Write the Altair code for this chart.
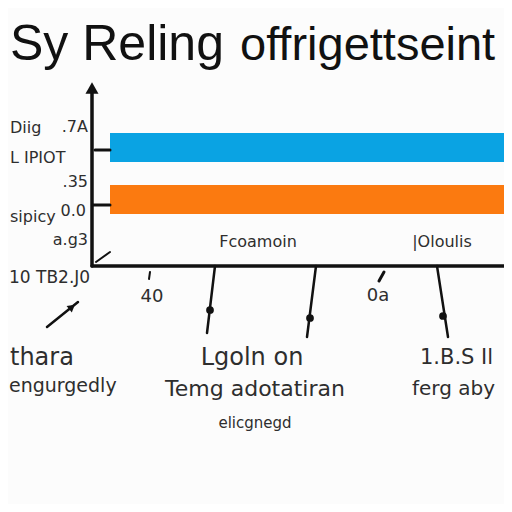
import altair as alt
import pandas as pd

# ---- data ----
bar_labels = ["L IPIOT", "sipicy"]
bar_values = [100, 99]
bar_colors = ["#0aa3e3", "#fb7a10"]

title_parts = ["Sy Reling", "offrigettseint"]
left_labels = ["Diig", "L IPIOT", "sipicy", "a.g3", "10 TB2.J0"]
y_tick_labels = [".7A", ".35", "0.0"]
inner_labels = ["Fcoamoin", "|Oloulis"]
x_tick_labels = ["40", "0a"]
bottom_left = ["thara", "engurgedly"]
bottom_mid = ["Lgoln on", "Temg adotatiran", "elicgnegd"]
bottom_right = ["1.B.S Il", "ferg aby"]

W, H = 496, 496
OFF = 8  # page margin; positions below are page px minus margin

df = pd.DataFrame({"cat": bar_labels, "value": bar_values, "color": bar_colors})

bars = alt.Chart(df).mark_bar().encode(
    x=alt.X("value:Q", scale=alt.Scale(domain=[0, 100], range=[102, 504]), axis=None),
    y=alt.Y("cat:N", sort=bar_labels,
            scale=alt.Scale(range=[125, 206], paddingInner=0.4423, paddingOuter=0), axis=None),
    color=alt.Color("color:N", scale=None, legend=None),
)

base = alt.Chart(pd.DataFrame({"a": [0]}))


def P(v):
    return v - OFF


def txt(s, x, y, size=17, align="center", color="#2e2e2e", font="DejaVu Sans",
        weight="normal", baseline="middle"):
    return base.mark_text(text=s, fontSize=size, align=align, baseline=baseline,
                          color=color, font=font, fontWeight=weight).encode(
        x=alt.value(P(x)), y=alt.value(P(y)))


def line(x1, y1, x2, y2, w=2.5, color="#111"):
    return base.mark_rule(strokeWidth=w, color=color, strokeCap="round").encode(
        x=alt.value(P(x1)), y=alt.value(P(y1)), x2=alt.value(P(x2)), y2=alt.value(P(y2)))


def dot(x, y, size=60, shape="circle", angle=0, color="#111"):
    return base.mark_point(filled=True, shape=shape, size=size, angle=angle,
                           color=color, opacity=1).encode(
        x=alt.value(P(x)), y=alt.value(P(y)))


layers = [bars]

# axes
layers += [
    line(92, 266, 92, 92, w=3.5),
    dot(92, 88, size=170, shape="triangle-up"),
    line(92, 266, 512, 266, w=3.5),
    line(95, 150, 110, 150, w=3),
    line(93, 205, 110, 205, w=3),
    line(96, 262, 110, 252, w=2),
]

# pointer lines below axis
layers += [
    line(215, 266, 207, 333), dot(210, 310),
    line(316, 266, 307, 337), dot(310, 318),
    line(437, 266, 448, 337), dot(443, 316),
    line(150, 272, 149, 279, w=2),
    line(384, 272, 379, 281, w=3),
    line(47, 327, 78, 302, w=2.5),
    dot(72, 307, size=70, shape="triangle-up", angle=51),
]

# title
layers += [
    txt(title_parts[0], 10, 60, size=50, align="left", color="#111",
        font="Liberation Sans", baseline="alphabetic"),
    txt(title_parts[1], 240, 60, size=47, align="left", color="#111",
        font="Liberation Sans", baseline="alphabetic"),
]

# left labels
layers += [
    txt(left_labels[0], 10, 128, size=16, align="left"),
    txt(left_labels[1], 10, 158, size=16, align="left"),
    txt(left_labels[2], 10, 217, size=16, align="left"),
    txt(left_labels[3], 88, 240, size=16, align="right"),
    txt(left_labels[4], 9, 278, size=17, align="left"),
    txt(y_tick_labels[0], 88, 127, align="right", size=16),
    txt(y_tick_labels[1], 88, 182, align="right", size=16),
    txt(y_tick_labels[2], 86, 211, align="right", size=16),
]

# inside plot
layers += [
    txt(inner_labels[0], 258, 242, size=16),
    txt(inner_labels[1], 442, 242, size=16),
]

# x tick labels
layers += [
    txt(x_tick_labels[0], 152, 297, size=18),
    txt(x_tick_labels[1], 378, 296, size=18),
]

# bottom annotations
layers += [
    txt(bottom_left[0], 10, 358, size=24, align="left"),
    txt(bottom_left[1], 9, 386, size=19, align="left"),
    txt(bottom_mid[0], 252, 358, size=24),
    txt(bottom_mid[1], 255, 389, size=22),
    txt(bottom_mid[2], 255, 423, size=15),
    txt(bottom_right[0], 420, 358, size=21, align="left"),
    txt(bottom_right[1], 412, 389, size=20, align="left"),
]

chart = alt.layer(*layers).properties(
    width=W, height=H, background="#fcfcfc",
    padding=0, autosize=alt.AutoSizeParams(type="none"),
).configure_view(stroke=None)

chart.save("out.html", embed_options={"renderer": "svg", "actions": False})
